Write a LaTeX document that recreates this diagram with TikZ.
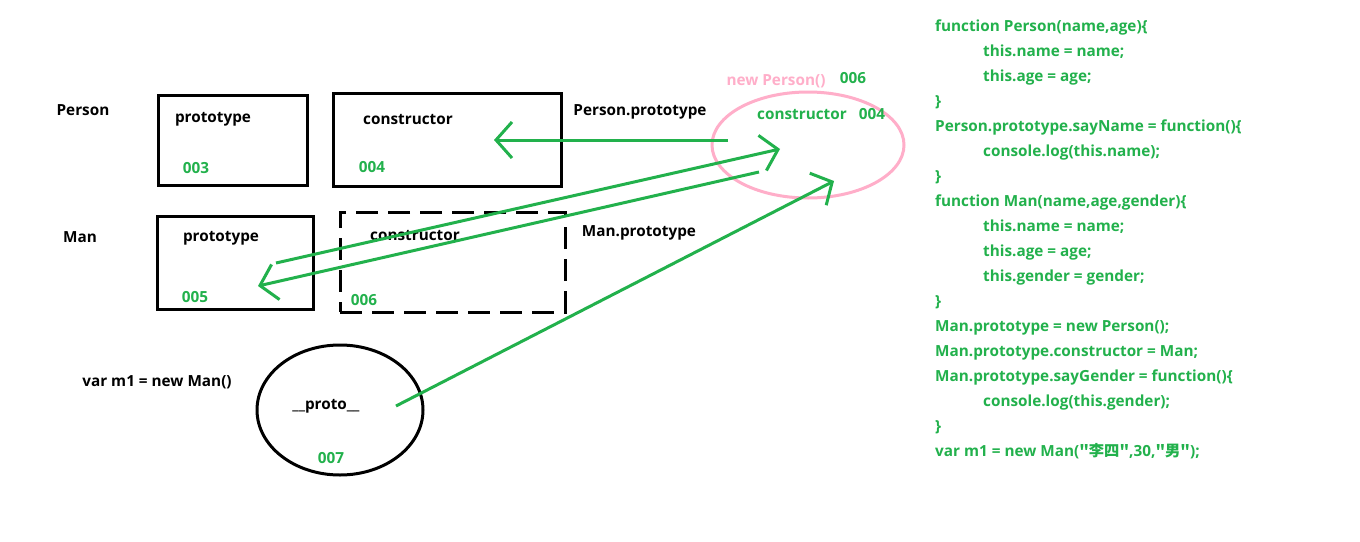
\documentclass[tikz,border=0pt]{standalone}
\usepackage{fontspec}
\setmainfont{Open Sans}
\newfontfamily\cjk{Noto Sans CJK SC}
\usetikzlibrary{shapes.geometric,arrows.meta}
\definecolor{pgreen}{HTML}{22B14C}
\definecolor{ppink}{HTML}{FFAEC9}
\tikzset{
  lbl/.style={inner sep=0pt, anchor=base, font=\fontsize{15.3}{17}\selectfont\bfseries},
  glbl/.style={lbl, text=pgreen},
  code/.style={inner sep=0pt, anchor=base west, text=pgreen, font=\fontsize{15.3}{17}\selectfont\bfseries},
  box/.style={draw=black, line width=3pt, inner sep=0pt},
  dbox/.style={box, dash pattern=on 22pt off 10pt},
  arr/.style={draw=pgreen, line width=3pt, -{Straight Barb[length=16pt,width=36pt]}},
}
\begin{document}
\begin{tikzpicture}[x=1pt,y=-1pt]
\useasboundingbox[fill=white] (0,0) rectangle (1360,541);
% boxes
\node[box, minimum width=149pt, minimum height=90pt] (pproto) at (232.5,140) {};
\node[box, minimum width=228pt, minimum height=93pt] (pcons) at (447,139.5) {};
\node[box, minimum width=156pt, minimum height=93pt] (mproto) at (235,262.5) {};
\node[dbox, minimum width=225pt, minimum height=100pt] (mcons) at (452.5,262) {};
\node[draw=ppink, line width=3pt, ellipse, inner sep=0pt, minimum width=192pt, minimum height=106pt] (newp) at (808,145) {};
\node[draw=black, line width=3pt, ellipse, inner sep=0pt, minimum width=166pt, minimum height=130pt] (m1) at (340,410) {};
% labels
\node[lbl] (tPerson) at (83,115) {Person};
\node[lbl] (tpp) at (213,122) {prototype};
\node[glbl] (t003) at (196,173) {003};
\node[lbl] (tpc) at (408,124) {constructor};
\node[glbl] (t004) at (372,172) {004};
\node[lbl] (tPP) at (640,115) {Person.prototype};
\node[lbl, text=ppink] (tnewp) at (776,85) {new Person()};
\node[glbl] (t006a) at (853,83) {006};
\node[glbl] (tnc) at (802,119) {constructor};
\node[glbl] (tnc4) at (872,119) {004};
\node[lbl] (tMan) at (80,242) {Man};
\node[lbl] (tmp) at (221,241) {prototype};
\node[glbl] (t005) at (195,302) {005};
\node[lbl] (tmc) at (415,240) {constructor};
\node[glbl] (t006b) at (364,305) {006};
\node[lbl] (tMP) at (639,236) {Man.prototype};
\node[lbl] (tvar) at (157,386) {var m1 = new Man()};
\node[lbl] (tproto) at (326,409) {\_\_proto\_\_};
\node[glbl] (t007) at (331,463) {007};
% code
\foreach \i/\ind/\txt in {
  1/0/{function Person(name,age)\{},
  2/1/{this.name = name;},
  3/1/{this.age = age;},
  4/0/{\}},
  5/0/{Person.prototype.sayName = function()\{},
  6/1/{console.log(this.name);},
  7/0/{\}},
  8/0/{function Man(name,age,gender)\{},
  9/1/{this.name = name;},
  10/1/{this.age = age;},
  11/1/{this.gender = gender;},
  12/0/{\}},
  13/0/{Man.prototype = new Person();},
  14/0/{Man.prototype.constructor = Man;},
  15/0/{Man.prototype.sayGender = function()\{},
  16/1/{console.log(this.gender);},
  17/0/{\}}}
  {\node[code] (code\i) at ({935+48*\ind},{31+25*(\i-1)}) {\txt};}
\node[code] (code18) at (935,456) {var m1 = new Man({\cjk\bfseries\char34 李四\char34},30,{\cjk\bfseries\char34 男\char34});};
% arrow end points
\coordinate (a1s) at (728,140);
\coordinate (a1e) at (494,140);
\coordinate (a2s) at (276,263);
\coordinate (a2e) at (780,149);
\coordinate (a3s) at (759,172);
\coordinate (a3e) at (258,286);
\coordinate (a4s) at (396,406);
\coordinate (a4e) at (834,181);
\draw[arr] (a1s) -- (a1e);
\draw[arr] (a2s) -- (a2e);
\draw[arr] (a3s) -- (a3e);
\draw[arr] (a4s) -- (a4e);
\end{tikzpicture}
\end{document}
